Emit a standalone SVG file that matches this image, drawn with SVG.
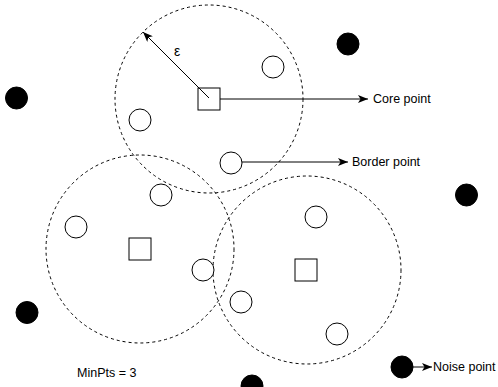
<svg xmlns="http://www.w3.org/2000/svg" width="498" height="387" viewBox="0 0 498 387">
<defs>
<style>
.region{fill:none;stroke:#000;stroke-width:1;stroke-dasharray:3 3;}
.pt{fill:#fff;stroke:#000;stroke-width:1;}
.core{fill:#fff;stroke:#000;stroke-width:1;}
.noise{fill:#000;stroke:#000;stroke-width:1;}
.conn{fill:none;stroke:#000;stroke-width:1;}
text{font-family:"Liberation Sans",Arial,sans-serif;font-size:12.5px;fill:#000;}
</style>
<marker id="arr" viewBox="0 0 10 8" refX="10" refY="4" markerWidth="10" markerHeight="8" markerUnits="userSpaceOnUse" orient="auto">
<path d="M0,0 L10,4 L0,8 L2.5,4 Z" fill="#000"/>
</marker>
</defs>
<rect width="498" height="387" fill="#fff"/>
<g id="regions">
<circle id="region-top" class="region" cx="209" cy="99" r="94"/>
<circle id="region-left" class="region" cx="140" cy="249" r="94"/>
<circle id="region-right" class="region" cx="307" cy="270" r="94"/>
</g>
<g id="core-top"><rect class="core" x="198" y="88" width="22" height="22"/></g>
<g id="core-left"><rect class="core" x="129" y="238" width="22" height="22"/></g>
<g id="core-right"><rect class="core" x="295" y="259" width="22" height="22"/></g>
<g id="p1"><circle class="pt" cx="273" cy="67" r="11"/></g>
<g id="p2"><circle class="pt" cx="140" cy="120" r="11"/></g>
<g id="p3"><circle class="pt" cx="231" cy="163" r="11"/></g>
<g id="p4"><circle class="pt" cx="161" cy="195" r="11"/></g>
<g id="p5"><circle class="pt" cx="76" cy="227" r="11"/></g>
<g id="p6"><circle class="pt" cx="203" cy="270" r="11"/></g>
<g id="p7"><circle class="pt" cx="316" cy="217" r="11"/></g>
<g id="p8"><circle class="pt" cx="241" cy="302" r="11"/></g>
<g id="p9"><circle class="pt" cx="337" cy="334" r="11"/></g>
<g id="n1"><circle class="noise" cx="348" cy="44" r="11"/></g>
<g id="n2"><circle class="noise" cx="16.5" cy="98" r="11"/></g>
<g id="n3"><circle class="noise" cx="466.5" cy="195" r="11"/></g>
<g id="n4"><circle class="noise" cx="27" cy="312.5" r="11"/></g>
<g id="n5"><circle class="noise" cx="252" cy="386" r="11"/></g>
<g id="n6"><circle class="noise" cx="402" cy="367" r="11"/></g>
<g id="connectors">
<line class="conn" x1="209" y1="98" x2="143" y2="32" marker-end="url(#arr)"/>
<line class="conn" x1="220" y1="99" x2="368" y2="99" marker-end="url(#arr)"/>
<line class="conn" x1="242" y1="162" x2="348" y2="162" marker-end="url(#arr)"/>
<line class="conn" x1="413" y1="367" x2="432" y2="367" marker-end="url(#arr)"/>
</g>
<g id="labels">
<text x="177" y="56" text-anchor="middle" style="font-size:14px">ε</text>
<text x="373" y="103">Core point</text>
<text x="352" y="166">Border point</text>
<text x="433" y="371">Noise point</text>
<text x="77" y="377">MinPts = 3</text>
</g>
</svg>
